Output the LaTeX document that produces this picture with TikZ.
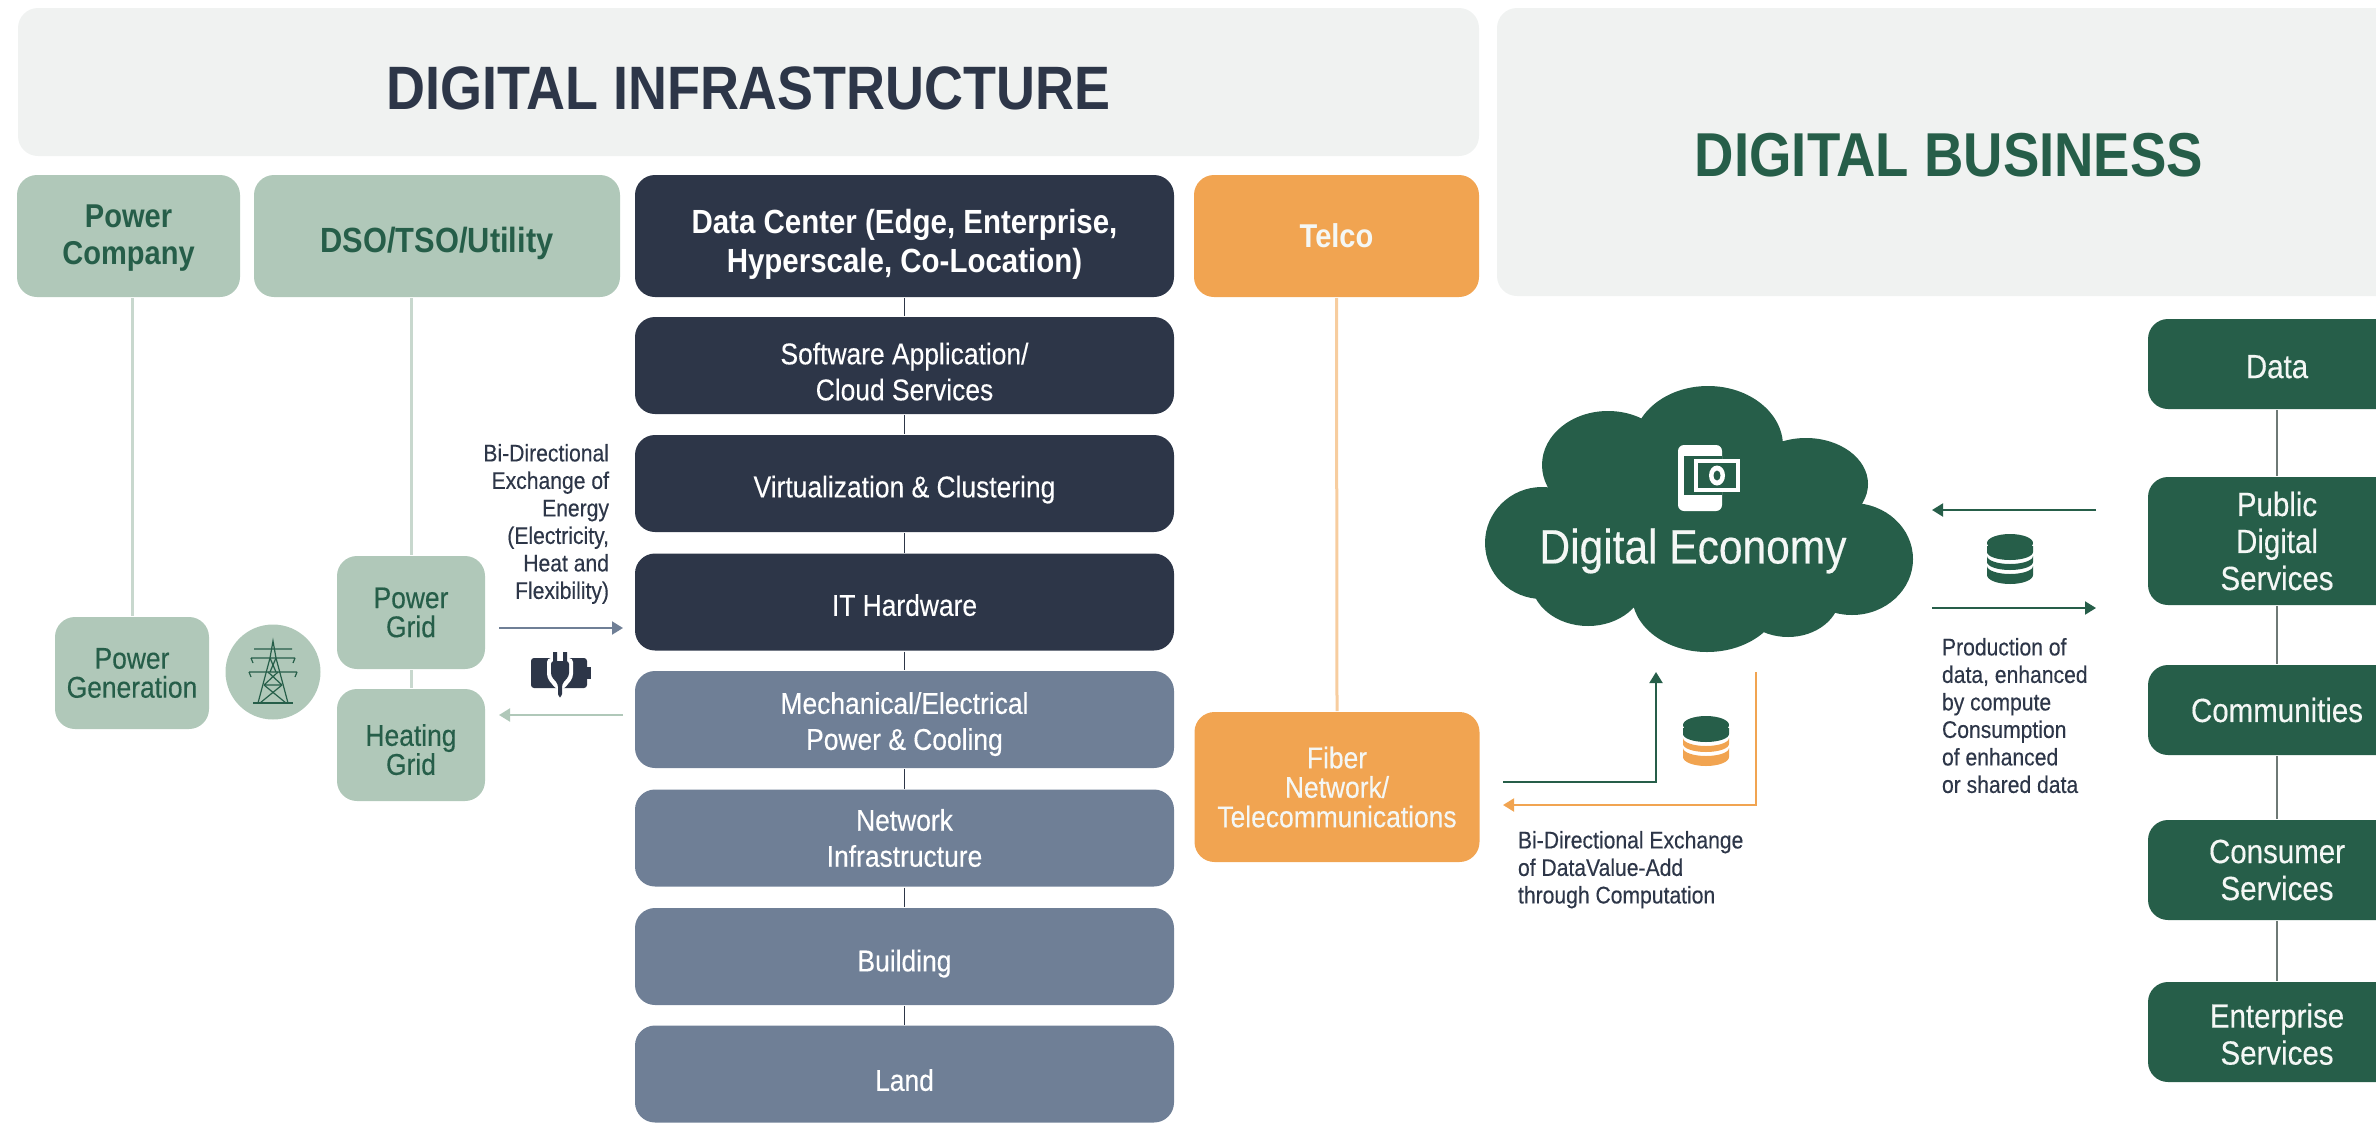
\documentclass[tikz,border=0pt]{standalone}
\usepackage{fontspec}
\usepackage{xcolor}
\usetikzlibrary{arrows.meta}
\newfontfamily\condf[FakeStretch=0.88,UprightFeatures={FakeBold=0.3}]{Liberation Sans}
\newcommand{\fs}[2]{\fontsize{#1}{#2}\selectfont\condf}
\definecolor{barcol}{HTML}{F0F2F1}
\definecolor{palegreen}{HTML}{B0C8B9}
\definecolor{darkgreen}{HTML}{265E49}
\definecolor{navycol}{HTML}{2D3648}
\definecolor{slatecol}{HTML}{6F7F96}
\definecolor{orangecol}{HTML}{F1A451}
\definecolor{softwhite}{HTML}{F4F7F5}
% stacked discs, at (#1), upper colour #2, lower colour #3
\newcommand{\dbicon}[3]{
  \begin{scope}[shift={(#1)},y=1pt]
    \fill[#2] (0,16) ellipse (23 and 9);
    \fill[#2] (-23,13) -- (-23,7) arc (180:360:23pt and 8pt) -- (23,13) -- cycle;
    \fill[#3] (-23,3) arc (180:360:23pt and 8pt) -- (23,-3) arc (360:180:23pt and 8pt) -- cycle;
    \fill[#3] (-23,-7) -- (-23,-16) arc (180:360:23pt and 9pt) -- (23,-7) arc (360:180:23pt and 8pt) -- cycle;
  \end{scope}
}
\begin{document}
\begin{tikzpicture}[x=1pt,y=-1pt,line width=2pt]
  \tikzset{
    drop/.style={execute at begin node={\rule{0pt}{\dimexpr 0.73em+#1pt*2\relax}}},
    plainbox/.style={rounded corners=20,inner sep=0,align=center},
    palebox/.style={plainbox,fill=palegreen,text=darkgreen},
    navybox/.style={plainbox,fill=navycol,text=white,minimum width=539,minimum height=97,font=\fs{30}{36}},
    slatebox/.style={navybox,fill=slatecol},
    orangebox/.style={plainbox,fill=orangecol,minimum width=285},
    greenbox/.style={plainbox,fill=darkgreen,text=softwhite,minimum width=258,font=\fs{33.5}{37}},
    notetext/.style={inner sep=0,text=navycol,font=\fs{24}{27.5}},
    pairlink/.style={-{Triangle[length=11pt,width=13pt]}}
  }
  \clip (0,0) rectangle (2376,1122);

  % heads
  \node[plainbox,fill=barcol,minimum width=1461,minimum height=148,text=navycol,font=\bfseries\fs{61.3}{62},drop=5] (infra) at (748.5,82) {DIGITAL INFRASTRUCTURE};
  \node[plainbox,fill=barcol,minimum width=940,minimum height=288] (bus) at (1967,152) {};
  \node[inner sep=0,text=darkgreen,font=\bfseries\fs{62}{62}] (bustitle) at (1949,155) {DIGITAL BUSINESS};

  \node[palebox,minimum width=223,minimum height=122,font=\bfseries\fs{33}{37},drop=19.5] (pco) at (128.5,236) {Power\\Company};
  \node[palebox,minimum width=366,minimum height=122,font=\bfseries\fs{35}{37},drop=7] (dso) at (437,236) {DSO/TSO/Utility};
  \node[navybox,minimum height=122,font=\bfseries\fs{33.5}{39},drop=27.5] (dc) at (904.5,236) {Data Center (Edge, Enterprise,\\Hyperscale, Co-Location)};
  \node[orangebox,minimum height=122,text=softwhite,font=\bfseries\fs{33}{37}] (telco) at (1336.5,236) {Telco};

  % data center stack
  \node[navybox,drop=24] (sw) at (904.5,365.5) {Software Application/\\Cloud Services};
  \node[navybox,drop=6] (virt) at (904.5,483.5) {Virtualization \& Clustering};
  \node[navybox,drop=3] (hw) at (904.5,602) {IT Hardware};
  \node[slatebox,drop=22.5] (mech) at (904.5,719.5) {Mechanical/Electrical\\Power \& Cooling};
  \node[slatebox] (net) at (904.5,838) {Network\\Infrastructure};
  \node[slatebox,drop=7] (bld) at (904.5,956.5) {Building};
  \node[slatebox,drop=6] (land) at (904.5,1074) {Land};
  \foreach \a/\b in {dc/sw,sw/virt,virt/hw,hw/mech,mech/net,net/bld,bld/land}
    \draw[navycol,line width=1.5pt] (\a.south) -- (\b.north);

  % left side
  \node[palebox,minimum width=154,minimum height=112,font=\fs{30}{29}] (pgen) at (132,673) {Power\\Generation};
  \node[palebox,minimum width=148,minimum height=113,font=\fs{30}{29}] (pgrid) at (411,612.5) {Power\\Grid};
  \node[palebox,minimum width=148,minimum height=112,font=\fs{30}{29},drop=19] (hgrid) at (411,745) {Heating\\Grid};
  \node[circle,fill=palegreen,minimum size=95,inner sep=0] (tower) at (273,672) {};
  \draw[palegreen!70,line width=3pt] (pgen.north |- pco.south) -- (pgen.north);
  \draw[palegreen!70,line width=3pt] (dso.south -| pgrid.north) -- (pgrid.north);
  \draw[palegreen!70,line width=3pt] (pgrid.south) -- (hgrid.north);

  \begin{scope}[shift={(tower.center)},y=1pt,darkgreen,line width=1.2pt]
    \draw (-15,-31) -- (-3,14) -- (0,31) -- (3,14) -- (15,-31);
    \draw (-20,-31) -- (20,-31);
    \draw (-22,14) -- (22,14) (-22,14) -- (-20,9) (22,14) -- (20,9);
    \draw (-24,0) -- (24,0) (-24,0) -- (-22,-5) (24,0) -- (22,-5);
    \draw (-19,23) -- (19,23) (-3,14) -- (3,0) (3,14) -- (-3,0);
    \draw (-5,0) -- (9,-13) (5,0) -- (-9,-13) (-9,-13) -- (9,-13);
    \draw (-9,-13) -- (13,-31) (9,-13) -- (-13,-31);
  \end{scope}

  \node[notetext,align=right,anchor=north east] (energy) at (610,443) {Bi-Directional\\Exchange of\\Energy\\(Electricity,\\Heat and\\Flexibility)};
  \coordinate (eout) at (499,628);
  \coordinate (ein) at (623,628);
  \coordinate (bout) at (623,715);
  \coordinate (bin) at (499,715);
  \draw[pairlink,slatecol] (eout) -- (ein);
  \draw[pairlink,palegreen] (bout) -- (bin);

  \begin{scope}[shift={(560,673)},y=1pt]
    \fill[navycol,rounded corners=3] (-29,-15) rectangle (27,15);
    \fill[navycol] (27,-6) rectangle (31,6);
    \fill[white,rounded corners=4] (-13,15) -- (-13,-5) -- (-3,-17) -- (3,-17) -- (13,-5) -- (13,15) -- cycle;
    \fill[navycol,rounded corners=3] (-9,12) -- (-9,-3) -- (-2,-11) -- (-2,-24) -- (2,-24) -- (2,-11) -- (9,-3) -- (9,12) -- cycle;
    \fill[navycol] (-7,10) rectangle (-3,21) (3,10) rectangle (7,21);
  \end{scope}

  % fiber and economy
  \node[orangebox,minimum height=150,text=softwhite,font=\fs{30}{29.5}] (fiber) at (1337,787) {Fiber\\Network/\\Telecommunications};
  \draw[orangecol!55,line width=3pt] (telco.south) -- (fiber.north);

  \fill[darkgreen]
    (1708,446) ellipse (75 and 60)
    (1608,465) ellipse (66 and 54)
    (1806,484) ellipse (62 and 46)
    (1542,543) ellipse (57 and 56)
    (1852,559) ellipse (61 and 56)
    (1588,580) ellipse (57 and 46)
    (1707,595) ellipse (75 and 57)
    (1788,595) ellipse (52 and 42)
    (1700,520) ellipse (150 and 80);
  \node[inner sep=0,text=softwhite,font=\fs{48.3}{50}] (econ) at (1693,551) {Digital Economy};

  \fill[white,rounded corners=6] (1678,445) rectangle (1722,511);
  \fill[darkgreen] (1684,456) rectangle (1722,495);
  \fill[white] (1694,459) rectangle (1740,492);
  \fill[darkgreen] (1698,463) rectangle (1736,488);
  \fill[white] (1717,475.5) ellipse (8 and 10);
  \fill[darkgreen] (1717,475.5) ellipse (3.5 and 5);
  \fill[white] (1700,503) circle (3);

  \coordinate (gstart) at (1503,782);
  \coordinate (gend) at (1656,672);
  \coordinate (ostart) at (1756,672);
  \coordinate (oend) at (1503,805);
  \draw[pairlink,darkgreen] (gstart) -| (gend);
  \draw[pairlink,orangecol] (ostart) |- (oend);
  \dbicon{1706,741}{darkgreen}{orangecol}
  \node[notetext,align=left,anchor=north west] (exch) at (1517,830) {Bi-Directional Exchange\\of DataValue-Add\\through Computation};

  % right side
  \node[greenbox,minimum height=90,drop=2] (data) at (2277,364) {Data};
  \node[greenbox,minimum height=128] (pub) at (2277,541) {Public\\Digital\\Services};
  \node[greenbox,minimum height=90] (comm) at (2277,710) {Communities};
  \node[greenbox,minimum height=100] (cons) at (2277,870) {Consumer\\Services};
  \node[greenbox,minimum height=100,drop=20.5] (ent) at (2277,1032) {Enterprise\\Services};
  \foreach \a/\b in {data/pub,pub/comm,comm/cons,cons/ent}
    \draw[gray!80!darkgreen] (\a.south) -- (\b.north);

  \coordinate (pstart) at (2096,510);
  \coordinate (pend) at (1932,510);
  \coordinate (qstart) at (1932,608);
  \coordinate (qend) at (2096,608);
  \draw[pairlink,darkgreen] (pstart) -- (pend);
  \draw[pairlink,darkgreen] (qstart) -- (qend);
  \dbicon{2010,559}{darkgreen}{darkgreen}
  \node[notetext,align=left,anchor=north west] (prod) at (1941,637) {Production of\\data, enhanced\\by compute\\Consumption\\of enhanced\\or shared data};
\end{tikzpicture}
\end{document}
